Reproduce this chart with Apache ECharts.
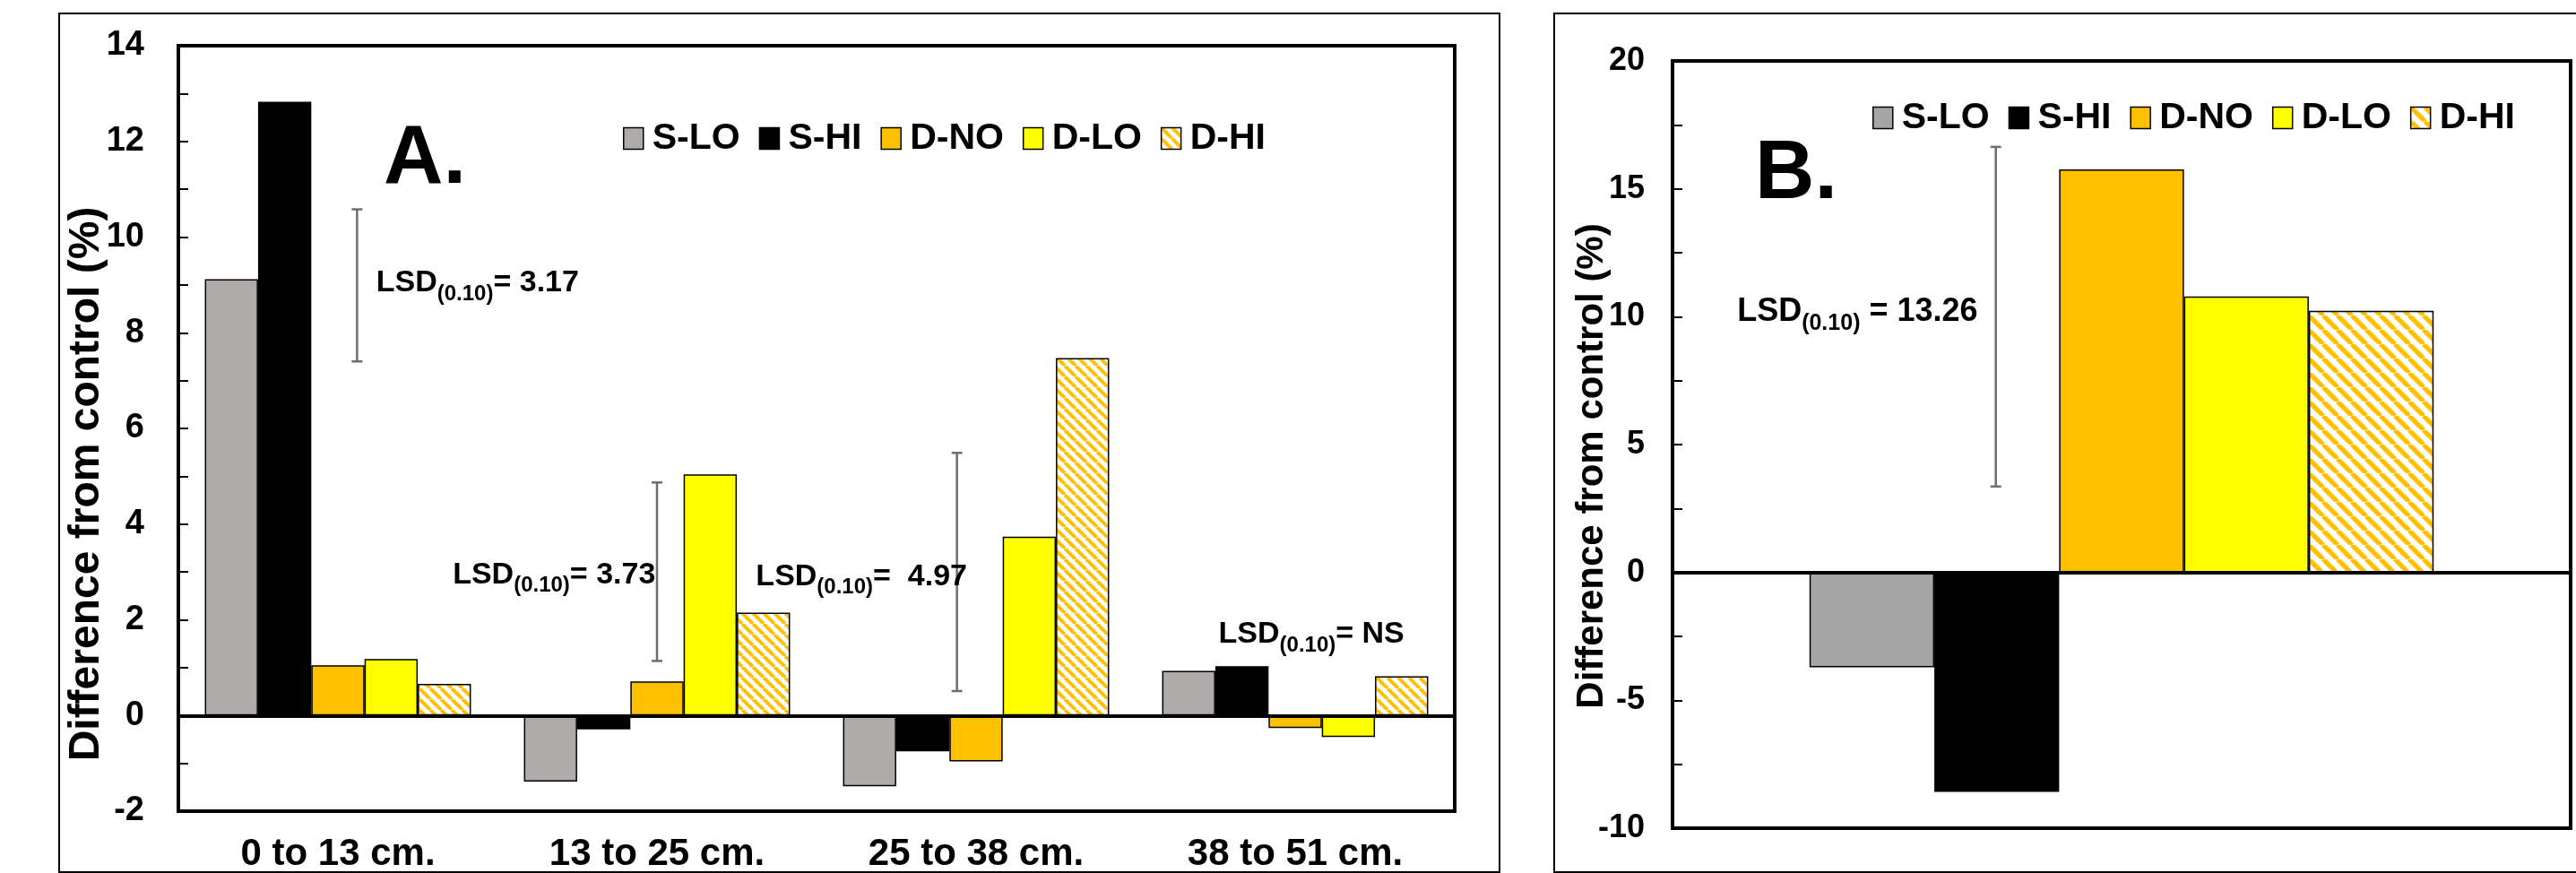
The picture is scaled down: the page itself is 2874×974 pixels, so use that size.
<!DOCTYPE html>
<html>
<head>
<meta charset="utf-8">
<script src="https://cdn.jsdelivr.net/npm/echarts@6/dist/echarts.min.js"></script>
<style>
html,body{margin:0;padding:0;background:#fff;}
#chart{width:2874px;height:974px;}
</style>
</head>
<body>
<div id="chart"></div>
<script>
// ---------- DATA ----------
const seriesNames = ['S-LO', 'S-HI', 'D-NO', 'D-LO', 'D-HI'];
const categoriesA = ['0 to 13 cm.', '13 to 25 cm.', '25 to 38 cm.', '38 to 51 cm.'];
const sLoA = [9.12, -1.38, -1.48, 0.93];
const sHiA = [12.83, -0.29, -0.75, 1.03];
const dNoA = [1.05, 0.71, -0.96, -0.26];
const dLoA = [1.18, 5.04, 3.74, -0.45];
const dHiA = [0.66, 2.15, 7.47, 0.82];
const valuesB = [-3.71, -8.58, 15.76, 10.79, 10.23]; // S-LO, S-HI, D-NO, D-LO, D-HI
const yTicksA = {min: -2, max: 14, step: 2};
const yTicksB = {min: -10, max: 20, step: 5};
// LSD bars (x in category units: category i spans i..i+1)
const lsdAX = [0.56, 1.50, 2.44];
const lsdALow = [7.40, 1.14, 0.51];
const lsdAHigh = [10.58, 4.87, 5.49];
const lsdAText = ['= 3.17', '= 3.73', '=  4.97', '= NS'];
const lsdBX = [0.36];
const lsdBLow = [3.36];
const lsdBHigh = [16.64];
const lsdBText = [' = 13.26'];
const yTitle = 'Difference from control (%)';

// ---------- LAYOUT / STYLE ----------
const FONT = '"Liberation Sans", Arial, Helvetica, sans-serif';
const labelAnchorA = [[0.62, 9.04], [0.86, 2.94], [1.81, 2.90], [3.26, 1.69]];
const labelAnchorB = [[0.072, 10.19]];

function stripes(period, width) {
  const c = document.createElement('canvas');
  c.width = period; c.height = period;
  const g = c.getContext('2d');
  g.fillStyle = '#ffffff'; g.fillRect(0, 0, period, period);
  g.strokeStyle = '#FFC000'; g.lineWidth = width;
  for (const k of [-period, 0, period]) {
    g.beginPath(); g.moveTo(k, 0); g.lineTo(k + period, period); g.stroke();
  }
  return c;
}
const hatchA = {image: stripes(12, 4), repeat: 'repeat'};
const hatchB = {image: stripes(16, 5.2), repeat: 'repeat'};
const colorsA = ['#AFABAB', '#000000', '#FFC000', '#FFFF00', hatchA];
const colorsB = ['#A6A6A6', '#000000', '#FFC000', '#FFFF00', hatchB];
const valuesA = [sLoA, sHiA, dNoA, dLoA, dHiA];

const measureCtx = document.createElement('canvas').getContext('2d');
function textW(str, size) {
  measureCtx.font = 'bold ' + size + 'px ' + FONT;
  return measureCtx.measureText(str).width;
}

function errRender(params, api) {
  const x = api.value(0), lo = api.value(1), hi = api.value(2);
  const pLo = api.coord([x, lo]), pHi = api.coord([x, hi]);
  const cap = 6;
  const st = {stroke: '#6E6E6E', lineWidth: 2.5};
  return {type: 'group', children: [
    {type: 'line', shape: {x1: pLo[0], y1: pLo[1], x2: pHi[0], y2: pHi[1]}, style: st},
    {type: 'line', shape: {x1: pLo[0] - cap, y1: pLo[1], x2: pLo[0] + cap, y2: pLo[1]}, style: st},
    {type: 'line', shape: {x1: pHi[0] - cap, y1: pHi[1], x2: pHi[0] + cap, y2: pHi[1]}, style: st}
  ]};
}

function makeLabelRender(texts, main, sub) {
  return function (params, api) {
    const p = api.coord([api.value(0), api.value(1)]);
    const t = texts[params.dataIndex];
    const w1 = textW('LSD', main), w2 = textW('(0.10)', sub);
    const mk = (str, x, y, size) => ({type: 'text', x: x, y: y,
      style: {text: str, fontSize: size, fontWeight: 'bold', fontFamily: FONT, fill: '#000',
              align: 'left', verticalAlign: 'middle'}});
    return {type: 'group', children: [
      mk('LSD', p[0], p[1], main),
      mk('(0.10)', p[0] + w1, p[1] + main * 0.36, sub),
      mk(t, p[0] + w1 + w2, p[1], main)
    ]};
  };
}

const series = [];
seriesNames.forEach((n, i) => {
  series.push({
    name: n, type: 'bar', xAxisIndex: 0, yAxisIndex: 0,
    data: valuesA[i], barGap: '0%', barCategoryGap: '16.6%',
    itemStyle: {color: colorsA[i], borderColor: '#000', borderWidth: 1.5},
    emphasis: {disabled: true},
    markLine: i === 0 ? {silent: true, symbol: ['none', 'none'], label: {show: false},
      lineStyle: {color: '#000', width: 4, type: 'solid'}, data: [{yAxis: 0}]} : undefined
  });
});
seriesNames.forEach((n, i) => {
  series.push({
    name: n, type: 'bar', xAxisIndex: 1, yAxisIndex: 1,
    data: [valuesB[i]], barGap: '0%', barCategoryGap: '30.5%',
    itemStyle: {color: colorsB[i], borderColor: '#000', borderWidth: 1.5},
    emphasis: {disabled: true},
    markLine: i === 0 ? {silent: true, symbol: ['none', 'none'], label: {show: false},
      lineStyle: {color: '#000', width: 4, type: 'solid'}, data: [{yAxis: 0}]} : undefined
  });
});
series.push({type: 'custom', xAxisIndex: 2, yAxisIndex: 0, renderItem: errRender, silent: true,
  data: lsdAX.map((x, i) => [x, lsdALow[i], lsdAHigh[i]])});
series.push({type: 'custom', xAxisIndex: 3, yAxisIndex: 1, renderItem: errRender, silent: true,
  data: lsdBX.map((x, i) => [x, lsdBLow[i], lsdBHigh[i]])});
series.push({type: 'custom', xAxisIndex: 2, yAxisIndex: 0, renderItem: makeLabelRender(lsdAText, 34, 24), silent: true,
  data: labelAnchorA});
series.push({type: 'custom', xAxisIndex: 3, yAxisIndex: 1, renderItem: makeLabelRender(lsdBText, 36, 25), silent: true,
  data: labelAnchorB});

function yAxisDef(grid, t, fs, margin) {
  return {
    type: 'value', gridIndex: grid, min: t.min, max: t.max, interval: t.step,
    axisLine: {show: true, lineStyle: {color: '#000', width: 4}},
    axisTick: {show: true, inside: true, length: 11, lineStyle: {color: '#000', width: 2}},
    minorTick: {show: true, splitNumber: 2, length: 11, lineStyle: {color: '#000', width: 2}},
    splitLine: {show: false},
    axisLabel: {fontSize: fs, fontWeight: 'bold', color: '#000', fontFamily: FONT, margin: margin}
  };
}

function legendDef(left, top, colors) {
  return {
    left: left, top: top, padding: 0, itemGap: 21, itemWidth: 22, itemHeight: 24,
    selectedMode: false, icon: 'rect',
    textStyle: {fontSize: 41, fontWeight: 'bold', color: '#000', fontFamily: FONT, padding: [0, 0, 0, 5]},
    data: seriesNames.map((n, i) => ({name: n, icon: 'rect', itemStyle: {color: colors[i], borderColor: '#000', borderWidth: 1.5}}))
  };
}

const option = {
  animation: false,
  backgroundColor: '#fff',
  grid: [
    {left: 199, top: 51, width: 1424, height: 854, show: true, borderColor: '#000', borderWidth: 4, backgroundColor: 'transparent'},
    {left: 1866, top: 68, width: 1002, height: 856, show: true, borderColor: '#000', borderWidth: 4, backgroundColor: 'transparent'}
  ],
  xAxis: [
    {type: 'category', gridIndex: 0, data: categoriesA, axisLine: {show: false}, axisTick: {show: false},
     axisLabel: {fontSize: 42, fontWeight: 'bold', color: '#000', fontFamily: FONT, margin: 27}},
    {type: 'category', gridIndex: 1, data: [''], axisLine: {show: false}, axisTick: {show: false},
     axisLabel: {show: false}},
    {type: 'value', gridIndex: 0, min: 0, max: 4, show: false},
    {type: 'value', gridIndex: 1, min: 0, max: 1, show: false}
  ],
  yAxis: [yAxisDef(0, yTicksA, 38, 38), yAxisDef(1, yTicksB, 36, 31)],
  legend: [legendDef(695, 134, colorsA), legendDef(2089, 111, colorsB)],
  graphic: [
    {type: 'rect', shape: {x: 66, y: 15, width: 1607, height: 958}, style: {fill: 'none', stroke: '#000', lineWidth: 2}, silent: true, z: -1},
    {type: 'rect', shape: {x: 1734, y: 15, width: 1200, height: 958}, style: {fill: 'none', stroke: '#000', lineWidth: 2}, silent: true, z: -1},
    {type: 'text', x: 97, y: 540, rotation: Math.PI / 2,
     style: {text: yTitle, fontSize: 48, fontWeight: 'bold', fontFamily: FONT, fill: '#000', align: 'center', verticalAlign: 'middle'}},
    {type: 'text', x: 1776, y: 520, rotation: Math.PI / 2,
     style: {text: yTitle, fontSize: 42, fontWeight: 'bold', fontFamily: FONT, fill: '#000', align: 'center', verticalAlign: 'middle'}},
    {type: 'text', x: 428, y: 179,
     style: {text: 'A.', fontSize: 92, fontWeight: 'bold', fontFamily: FONT, fill: '#000', align: 'left', verticalAlign: 'middle'}},
    {type: 'text', x: 1958, y: 196,
     style: {text: 'B.', fontSize: 92, fontWeight: 'bold', fontFamily: FONT, fill: '#000', align: 'left', verticalAlign: 'middle'}}
  ],
  series: series
};

const chart = echarts.init(document.getElementById('chart'), null, {renderer: 'canvas'});
chart.setOption(option);
</script>
</body>
</html>
